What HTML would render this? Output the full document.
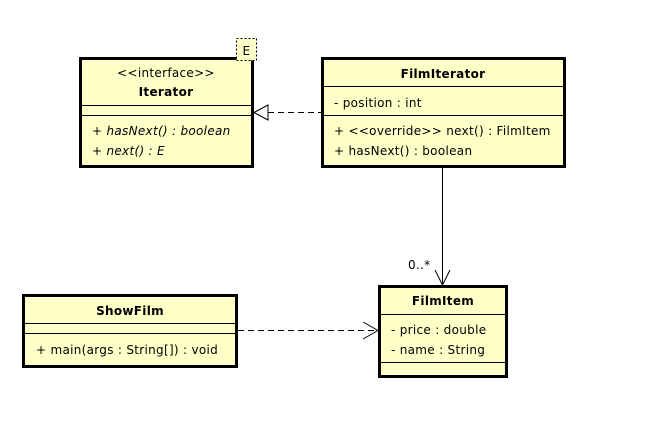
<!DOCTYPE html>
<html><head><style>body{margin:0;background:#fff}svg{display:block}text{font-family:"DejaVu Sans","Liberation Sans",sans-serif;font-size:12px;letter-spacing:0.3px;fill:#000}</style></head><body>
<svg width="646" height="438" viewBox="0 0 646 438">
<g fill="#ffffc8" stroke="#000">
<rect x="80.5" y="58.5" width="172" height="108" stroke-width="3"/>
<rect x="322.5" y="58.5" width="242" height="108" stroke-width="3"/>
<rect x="379.5" y="286.5" width="127" height="90" stroke-width="3"/>
<rect x="23.5" y="295.5" width="213" height="71" stroke-width="3"/>
<rect x="236.5" y="38.5" width="20" height="22" stroke-dasharray="2,2" stroke-width="1"/>
</g>
<g stroke="#000" stroke-width="1">
<line x1="81" y1="105.5" x2="252" y2="105.5"/>
<line x1="81" y1="115.5" x2="252" y2="115.5"/>
<line x1="323" y1="86.5" x2="564" y2="86.5"/>
<line x1="323" y1="115.5" x2="564" y2="115.5"/>
<line x1="380" y1="314.5" x2="506" y2="314.5"/>
<line x1="380" y1="362.5" x2="506" y2="362.5"/>
<line x1="24" y1="323.5" x2="236" y2="323.5"/>
<line x1="24" y1="333.5" x2="236" y2="333.5"/>
<line x1="268" y1="112.5" x2="321" y2="112.5" stroke-dasharray="6,4"/>
<polygon points="254,112.5 268,105 268,120" fill="#fff"/>
<line x1="442.5" y1="168" x2="442.5" y2="284"/>
<polyline points="435,270 442.5,285 450,270" fill="none"/>
<line x1="238" y1="330.5" x2="377" y2="330.5" stroke-dasharray="6,4"/>
<polyline points="363,322 378,330.5 363,339" fill="none"/>
</g>
<text x="246.5" y="55" text-anchor="middle" font-size="13">E</text>
<text x="166" y="77" text-anchor="middle">&lt;&lt;interface&gt;&gt;</text>
<text x="166" y="96" text-anchor="middle" font-weight="bold">Iterator</text>
<text x="92" y="135" font-style="italic">+ hasNext() : boolean</text>
<text x="92" y="155" font-style="italic">+ next() : E</text>
<text x="443" y="78" text-anchor="middle" font-weight="bold">FilmIterator</text>
<text x="334" y="107">- position : int</text>
<text x="334" y="135">+ &lt;&lt;override&gt;&gt; next() : FilmItem</text>
<text x="334" y="155">+ hasNext() : boolean</text>
<text x="408" y="269">0..*</text>
<text x="443" y="305" text-anchor="middle" font-weight="bold">FilmItem</text>
<text x="391" y="334">- price : double</text>
<text x="391" y="354">- name : String</text>
<text x="130" y="315" text-anchor="middle" font-weight="bold">ShowFilm</text>
<text x="36" y="354">+ main(args : String[]) : void</text>
</svg>
</body></html>
